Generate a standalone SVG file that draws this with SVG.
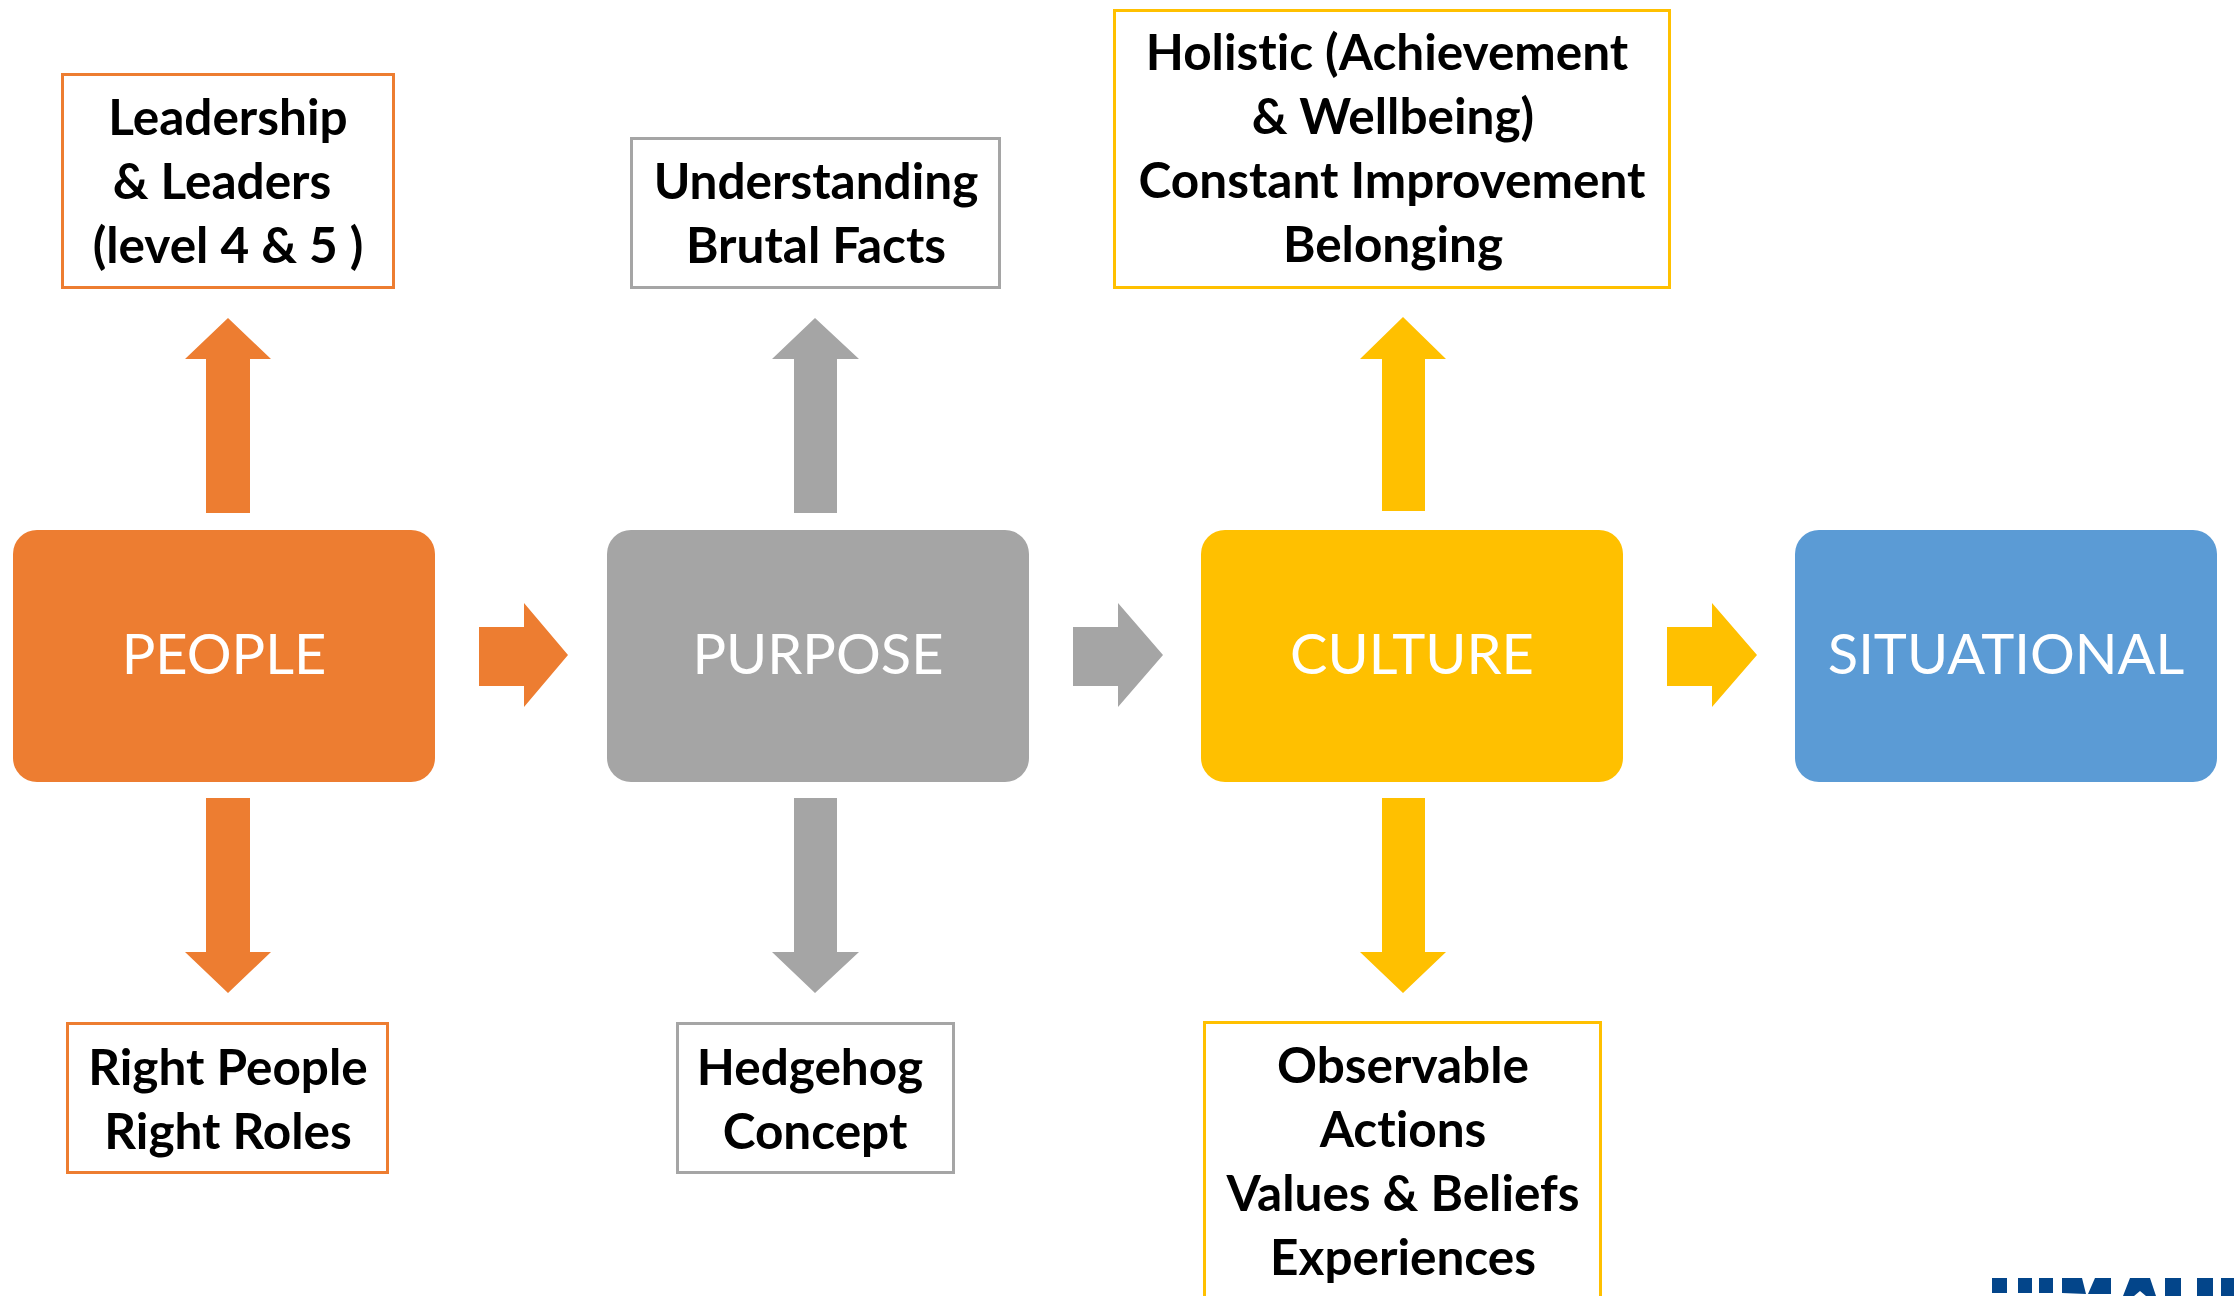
<svg xmlns="http://www.w3.org/2000/svg" width="2234" height="1296" viewBox="0 0 2234 1296">
<style>
.b{font-family:Lato,"Open Sans",sans-serif;font-weight:700;font-size:49.500px;fill:#000;text-anchor:middle;font-variant-ligatures:none}
.m{font-family:Lato,"Open Sans",sans-serif;font-weight:400;font-size:56px;fill:#fff;text-anchor:middle;font-variant-ligatures:none}
.o{fill:#ed7d31}.g{fill:#a5a5a5}.y{fill:#ffc000}.u{fill:#5b9bd5}
.bx{fill:#fff;stroke-width:3}
.logo{fill:#03458a}
</style>
<rect width="2234" height="1296" fill="#fff"/>
<g id="connectors">
<path class="o" d="M479 627H524V603L568 655L524 707V686H479Z"/>
<path class="g" d="M1073 627H1118V603L1163 655L1118 707V686H1073Z"/>
<path class="y" d="M1667 627H1712V603L1757 655L1712 707V686H1667Z"/>
<path class="o" d="M206 513V359H185L228 318L271 359H250V513Z"/>
<path class="g" d="M794 513V359H772L815 318L859 359H837V513Z"/>
<path class="y" d="M1382 511V359H1360L1403 317L1446 359H1425V511Z"/>
<path class="o" d="M206 798V952H185L228 993L271 952H250V798Z"/>
<path class="g" d="M794 798V952H772L815 993L859 952H837V798Z"/>
<path class="y" d="M1382 798V952H1360L1403 993L1446 952H1425V798Z"/>
</g>
<g id="people"><rect class="o" x="13" y="530" width="422" height="252" rx="24"/><text class="m" x="224" y="674">PEOPLE</text></g>
<g id="purpose"><rect class="g" x="607" y="530" width="422" height="252" rx="24"/><text class="m" x="818" y="674">PURPOSE</text></g>
<g id="culture"><rect class="y" x="1201" y="530" width="422" height="252" rx="24"/><text class="m" x="1412" y="674">CULTURE</text></g>
<g id="situational"><rect class="u" x="1795" y="530" width="422" height="252" rx="24"/><text class="m" x="2006" y="674">SITUATIONAL</text></g>
<g id="people-top"><rect class="bx" stroke="#ed7d31" x="62.500" y="74.500" width="331" height="213"/>
<text class="b" x="228" y="134.500">Leadership</text><text class="b" x="222" y="198.500">&amp; Leaders</text><text class="b" x="228" y="262.500">(level 4 &amp; 5 )</text></g>
<g id="purpose-top"><rect class="bx" stroke="#a5a5a5" x="631.500" y="138.500" width="368" height="149"/>
<text class="b" x="816" y="198.500">Understanding</text><text class="b" x="816" y="262.500">Brutal Facts</text></g>
<g id="culture-top"><rect class="bx" stroke="#ffc000" x="1114.500" y="10.500" width="555" height="277"/>
<text class="b" x="1387" y="70">Holistic (Achievement</text><text class="b" x="1393" y="134">&amp; Wellbeing)</text><text class="b" x="1392" y="198">Constant Improvement</text><text class="b" x="1393" y="262">Belonging</text></g>
<g id="people-bottom"><rect class="bx" stroke="#ed7d31" x="67.500" y="1023.500" width="320" height="149"/>
<text class="b" x="228" y="1084.500">Right People</text><text class="b" x="228" y="1148.500">Right Roles</text></g>
<g id="purpose-bottom"><rect class="bx" stroke="#a5a5a5" x="677.500" y="1023.500" width="276" height="149"/>
<text class="b" x="810" y="1084.500">Hedgehog</text><text class="b" x="815" y="1148.500">Concept</text></g>
<g id="culture-bottom"><path class="bx" fill="none" stroke="#ffc000" d="M1204.500 1300V1022.500H1600.500V1300"/>
<text class="b" x="1403" y="1083">Observable</text><text class="b" x="1403" y="1147">Actions</text><text class="b" x="1403" y="1211">Values &amp; Beliefs</text><text class="b" x="1403" y="1275">Experiences</text></g>
<g id="logo-fragment" class="logo">
<rect x="1992" y="1278" width="15" height="15"/>
<rect x="2018" y="1278" width="14" height="15"/>
<rect x="2039" y="1278" width="14" height="15"/>
<path d="M2062 1278H2082L2086 1294L2062 1293Z"/>
<path d="M2095 1278H2111V1294H2088Z"/>
<path d="M2130 1278H2150L2156 1296H2146L2140 1291L2134 1296H2123Z"/>
<rect x="2165" y="1278" width="16" height="18"/>
<rect x="2197" y="1278" width="16" height="18"/>
<rect x="2221" y="1278" width="13" height="18"/>
</g>
</svg>
